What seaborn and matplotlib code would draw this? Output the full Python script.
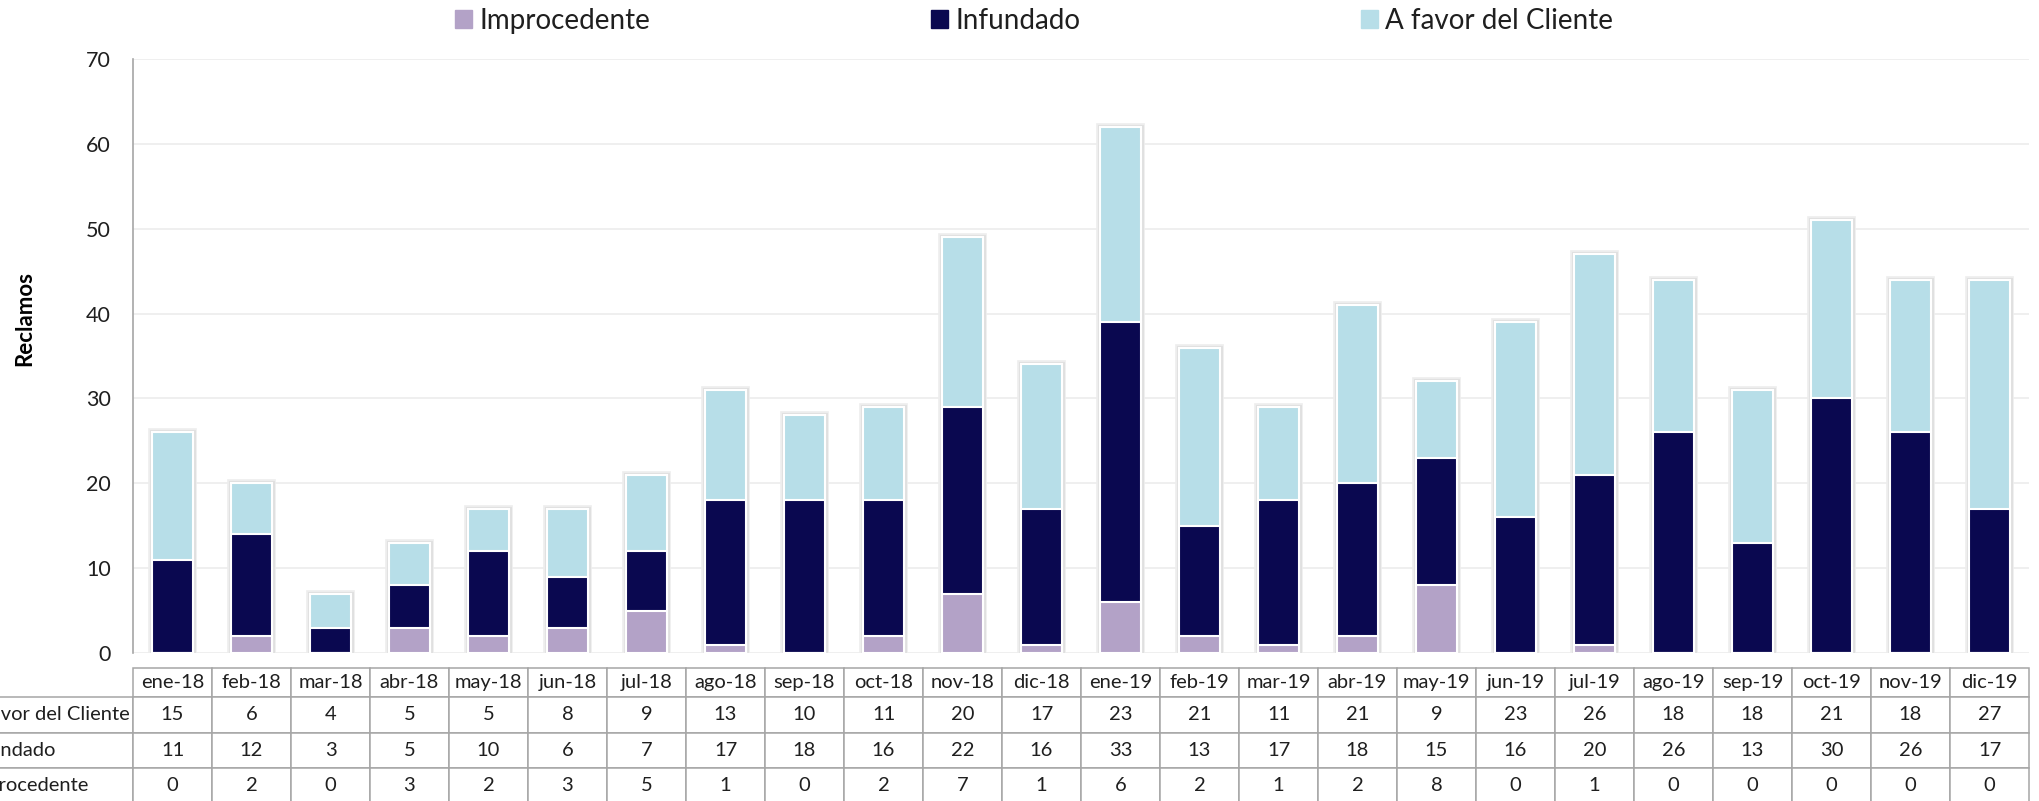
import matplotlib
matplotlib.use("Agg")
import matplotlib.pyplot as plt
import matplotlib.patheffects as pe
from matplotlib.patches import Patch
import seaborn as sns
import pandas as pd

# Monthly complaint counts by resolution
months = ["ene-18", "feb-18", "mar-18", "abr-18", "may-18", "jun-18", "jul-18",
          "ago-18", "sep-18", "oct-18", "nov-18", "dic-18", "ene-19", "feb-19",
          "mar-19", "abr-19", "may-19", "jun-19", "jul-19", "ago-19", "sep-19",
          "oct-19", "nov-19", "dic-19"]
a_favor_cliente = [15, 6, 4, 5, 5, 8, 9, 13, 10, 11, 20, 17, 23, 21, 11, 21, 9,
                   23, 26, 18, 18, 21, 18, 27]
infundado = [11, 12, 3, 5, 10, 6, 7, 17, 18, 16, 22, 16, 33, 13, 17, 18, 15, 16,
             20, 26, 13, 30, 26, 17]
improcedente = [0, 2, 0, 3, 2, 3, 5, 1, 0, 2, 7, 1, 6, 2, 1, 2, 8, 0, 1, 0, 0,
                0, 0, 0]

series_names = ["Improcedente", "Infundado", "A favor del Cliente"]
series_colors = ["#B3A2C7", "#0A0850", "#B7DEE8"]
y_ticks = [0, 10, 20, 30, 40, 50, 60, 70]

sns.set_style("white")
plt.rcParams["font.family"] = ["Lato", "DejaVu Sans"]
text_color = "#1F1F1F"

df = pd.DataFrame({
    "mes": months,
    "Improcedente": improcedente,
    "Infundado": infundado,
    "A favor del Cliente": a_favor_cliente,
})
# cumulative heights for stacking (drawn from the top layer down)
df["cum_imp"] = df["Improcedente"]
df["cum_inf"] = df["cum_imp"] + df["Infundado"]
df["cum_cli"] = df["cum_inf"] + df["A favor del Cliente"]

W, H = 2039, 801
fig = plt.figure(figsize=(W / 100, H / 100), dpi=100)
ax_left, ax_right, ax_top, ax_bot = 133, 2029, 59, 653
ax = fig.add_axes([ax_left / W, 1 - ax_bot / H,
                   (ax_right - ax_left) / W, (ax_bot - ax_top) / H])

bar_w = 0.52
# soft grey halo around each full bar
glow = [pe.Stroke(linewidth=5.5, foreground="#EDEDED"),
        pe.Stroke(linewidth=3.5, foreground="#E0E0E0"),
        pe.Normal()]
layers = [("cum_cli", series_colors[2]), ("cum_inf", series_colors[1]),
          ("cum_imp", series_colors[0])]
for col, colr in layers:
    sns.barplot(data=df, x="mes", y=col, color=colr, saturation=1,
                width=bar_w, edgecolor="white", linewidth=1.5, ax=ax,
                zorder=3)
for p in ax.patches[:len(months)]:
    p.set_path_effects(glow)

ax.set_xlim(-0.5, len(months) - 0.5)
ax.set_ylim(0, 70)
ax.set_yticks(y_ticks)
ax.yaxis.grid(True, color="#ECECEC", linewidth=1.2, zorder=0)
ax.set_axisbelow(True)
ax.tick_params(axis="y", length=0, pad=16, labelsize=15.5, labelcolor=text_color)
ax.tick_params(axis="x", length=0, labelbottom=False)
ax.set_xlabel("")
ax.set_ylabel("")
for s in ["top", "right", "bottom"]:
    ax.spines[s].set_visible(False)
ax.spines["left"].set_color("#A6A6A6")
ax.spines["left"].set_linewidth(1.2)

fig.text(25 / W, 1 - 319 / H, "Reclamos", rotation=90, ha="center",
         va="center", fontsize=16, fontweight="bold", color="black")

# Data table below the bars
row_series = [("A favor del Cliente", a_favor_cliente),
              ("Infundado", infundado),
              ("Improcedente", improcedente)]
cell_text = [[""] + months] + [[name] + [str(v) for v in vals]
                               for name, vals in row_series]
label_w, col_w = 171, 79
total_w = label_w + col_w * len(months)
axw, axh = ax_right - ax_left, ax_bot - ax_top
tbl_top, tbl_bot = 668, 803.5
tbl = ax.table(cellText=cell_text, cellLoc="center",
               colWidths=[label_w / total_w] + [col_w / total_w] * len(months),
               bbox=[(ax_right - total_w - ax_left) / axw,
                     (ax_bot - tbl_bot) / axh,
                     total_w / axw,
                     (tbl_bot - tbl_top) / axh])
tbl.auto_set_font_size(False)
tbl.set_fontsize(14.5)
for (r, c), cell in tbl.get_celld().items():
    cell.set_edgecolor("#A6A6A6")
    cell.set_linewidth(1.1)
    cell.set_height(29 if r == 0 else 35.5)
    cell.get_text().set_color(text_color)
    if c == 0:
        cell.PAD = 0.02
        cell.get_text().set_horizontalalignment("left")
        if r == 0:
            cell.visible_edges = "open"

handles = [Patch(facecolor=c, edgecolor=c) for c in series_colors]
fig.legend(handles, series_names, loc="center", ncol=3,
           bbox_to_anchor=(1034 / W, 1 - 21 / H), frameon=False,
           fontsize=20, handlelength=0.62, handleheight=0.62,
           handletextpad=0.25, columnspacing=10.1, labelcolor=text_color)

fig.savefig("out.png", dpi=100)
